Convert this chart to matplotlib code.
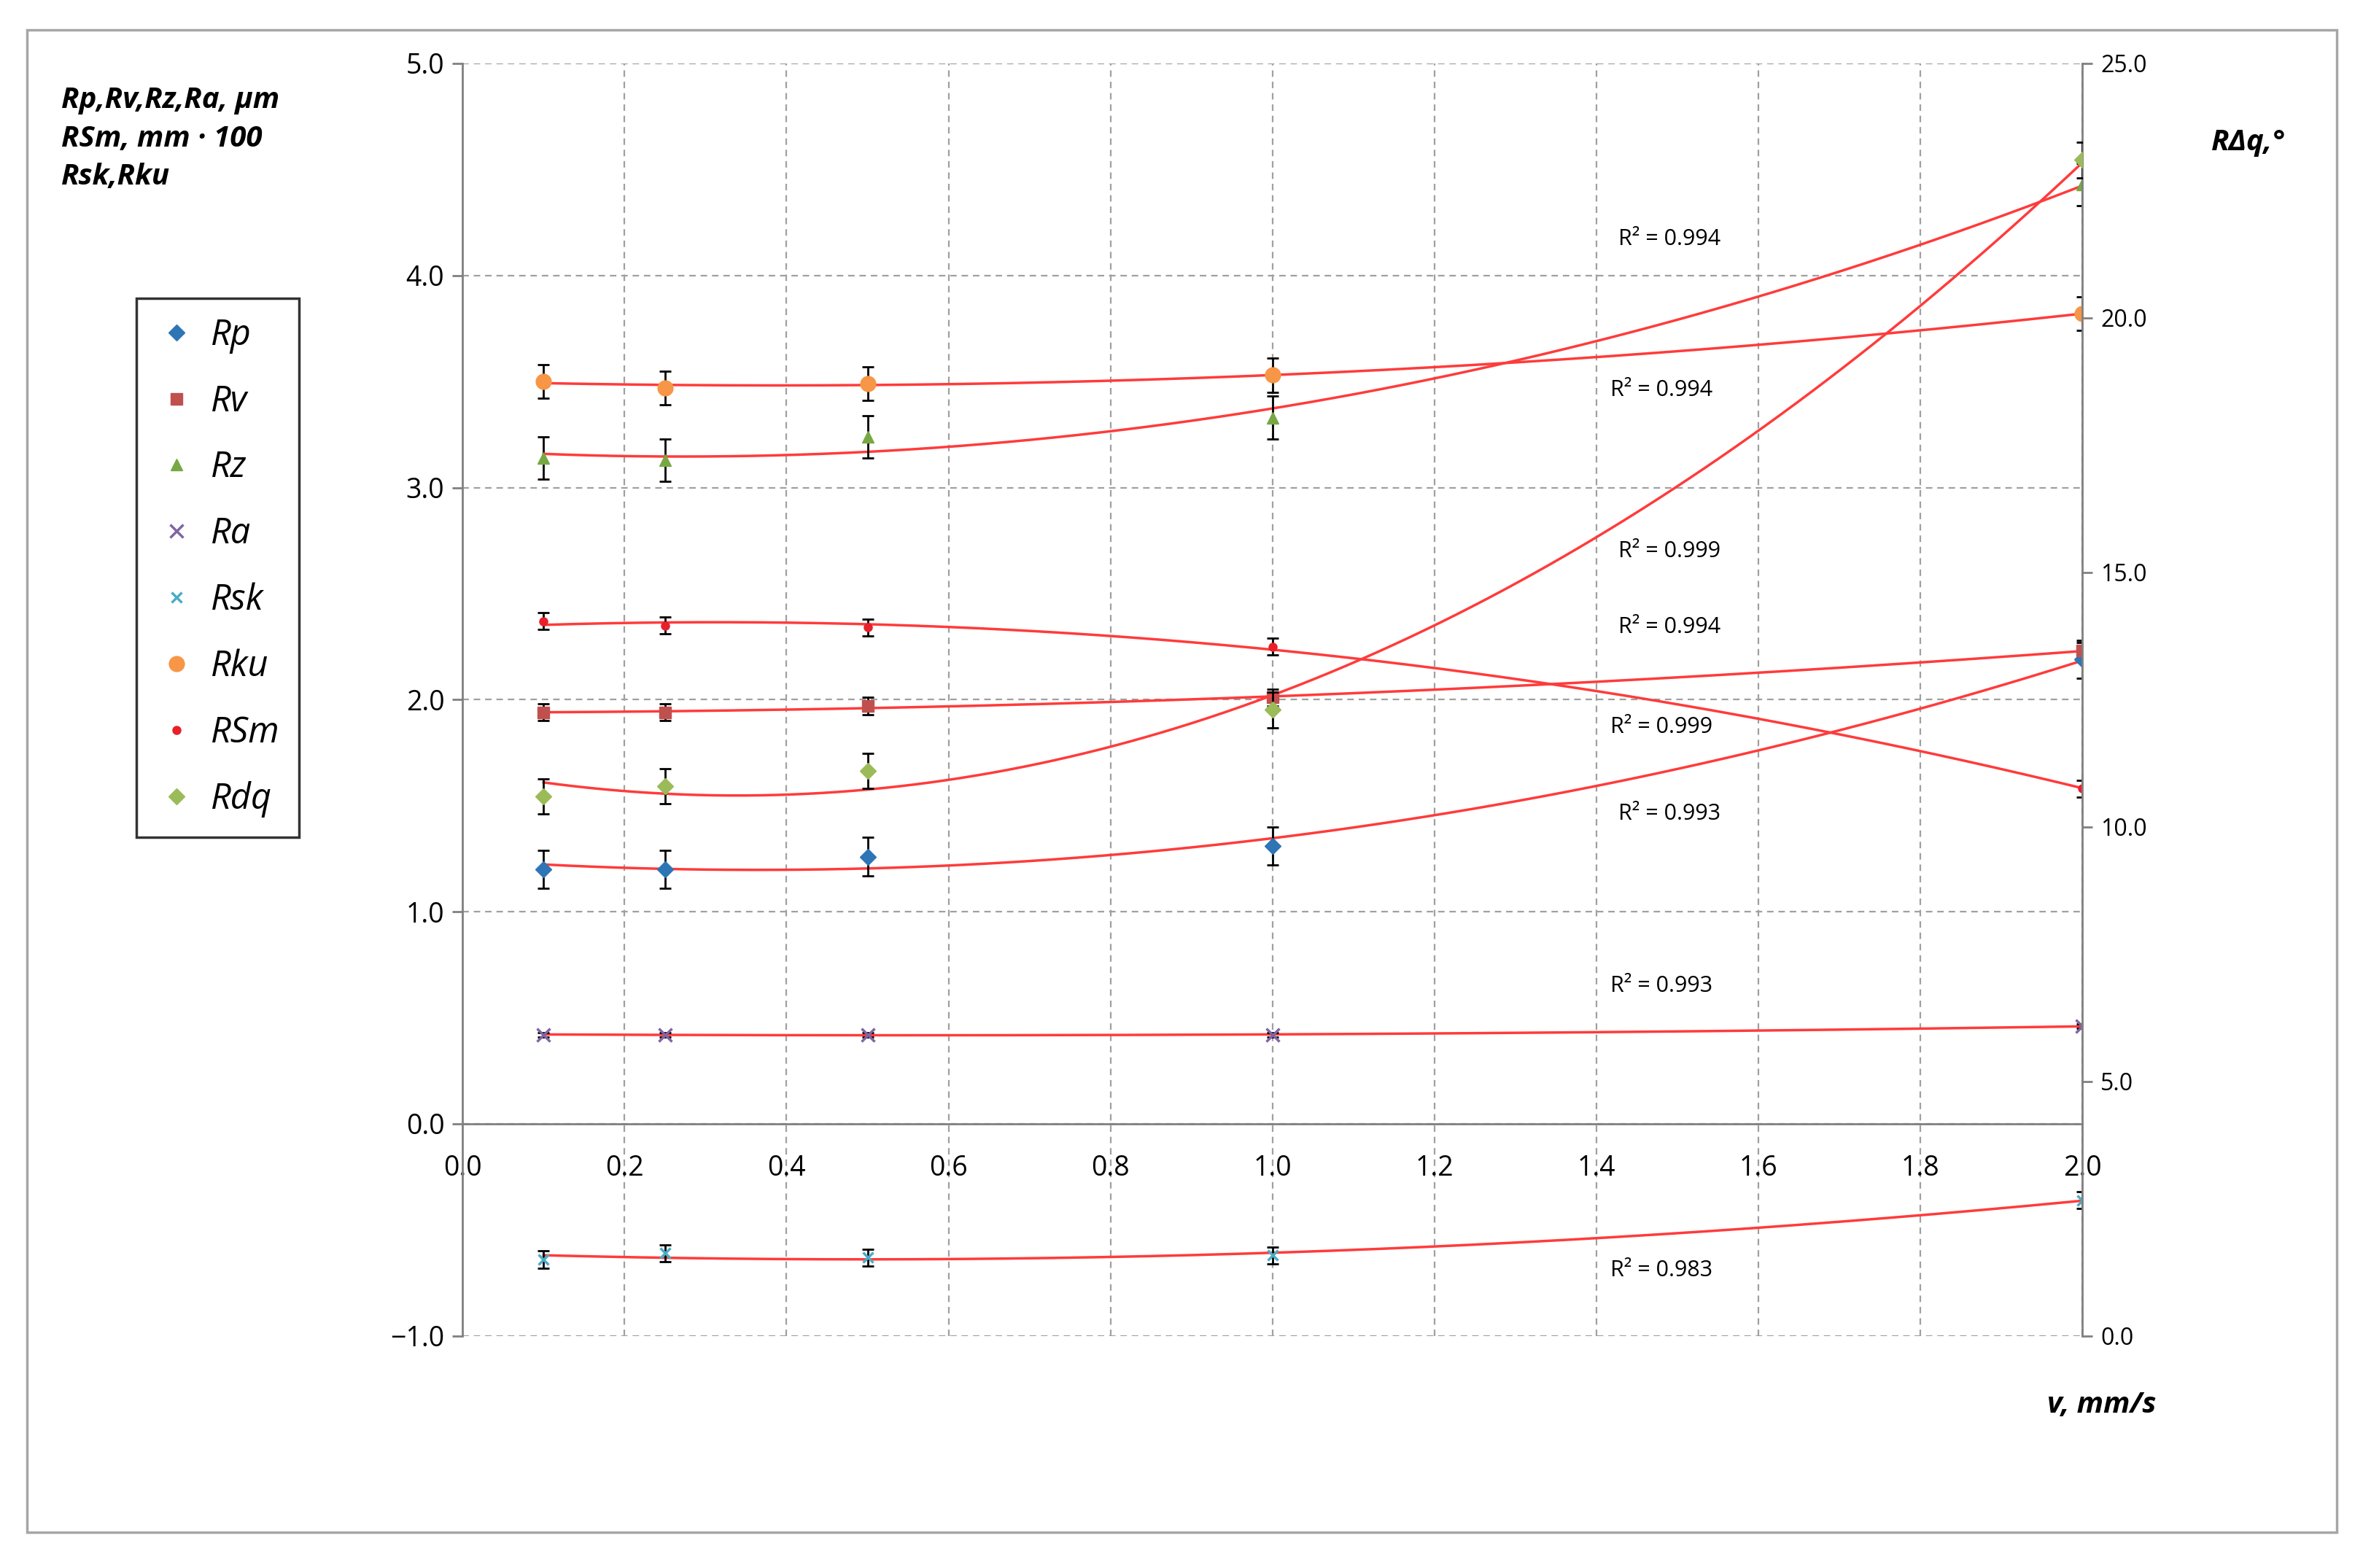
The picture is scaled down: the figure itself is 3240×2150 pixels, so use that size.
import numpy as np
import matplotlib.pyplot as plt
from matplotlib.patches import Rectangle

plt.rcParams['font.family'] = ['Open Sans', 'DejaVu Sans']

v = [0.1, 0.25, 0.5, 1.0, 2.0]
rp = [1.20, 1.20, 1.26, 1.31, 2.19]
rv = [1.94, 1.94, 1.97, 2.01, 2.23]
rz = [3.14, 3.13, 3.24, 3.33, 4.43]
ra = [0.42, 0.42, 0.42, 0.42, 0.46]
rsk = [-0.64, -0.61, -0.63, -0.62, -0.36]
rku = [3.50, 3.47, 3.49, 3.53, 3.82]
rsm = [2.37, 2.35, 2.34, 2.25, 1.58]
rdq = [10.6, 10.8, 11.1, 12.3, 23.1]  # right axis, degrees

err = {"Rp": 0.09, "Rv": 0.04, "Rz": 0.1, "Ra": 0.01, "Rsk": 0.04,
       "Rku": 0.08, "RSm": 0.04, "Rdq": 0.35}
r2_labels = ["0.994", "0.994", "0.999", "0.994", "0.999", "0.993", "0.993", "0.983"]
r2_pos = [(1.49, 4.17), (1.48, 3.46), (1.49, 2.70), (1.49, 2.34), (1.48, 1.87),
          (1.49, 1.46), (1.48, 0.65), (1.48, -0.69)]

fig = plt.figure(figsize=(32.41, 21.5), dpi=100)
fig.patches.append(Rectangle((0.0115, 0.023), 0.977, 0.958, transform=fig.transFigure,
                             fill=False, edgecolor="#a6a6a6", lw=2.5))
ax = fig.add_axes([0.1957, 0.148, 0.6853, 0.8116])
ax2 = ax.twinx()

series = [("Rp", rp, "D", "#2e75b6", 11), ("Rv", rv, "s", "#c0504d", 11),
          ("Rz", rz, "^", "#77a843", 12), ("Ra", ra, "x", "#8064a2", 13),
          ("Rsk", rsk, "x", "#4bacc6", 10), ("Rku", rku, "o", "#f79646", 15),
          ("RSm", rsm, "o", "#e8202a", 8)]
xs = np.linspace(0.1, 2.0, 200)
handles = []
for name, y, m, c, ms in series:
    ax.errorbar(v, y, yerr=err[name], fmt="none", ecolor="black", elinewidth=2, capsize=6, capthick=2, zorder=3)
    h, = ax.plot(v, y, m, color=c, ms=ms, mew=2.5 if m == "x" else 1, ls="none", label=name, zorder=4)
    handles.append(h)
    p = np.polyfit(v, y, 2)
    ax.plot(xs, np.polyval(p, xs), color="#ff3b3b", lw=2.5, zorder=2)

ax2.errorbar(v, rdq, yerr=err["Rdq"], fmt="none", ecolor="black", elinewidth=2, capsize=6, capthick=2, zorder=3)
h, = ax2.plot(v, rdq, "D", color="#9bbb59", ms=11, ls="none", label="Rdq", zorder=4)
handles.append(h)
p = np.polyfit(v, rdq, 2)
ax2.plot(xs, np.polyval(p, xs), color="#ff3b3b", lw=2.5, zorder=2)

ax.set_xlim(0, 2.0)
ax.set_ylim(-1, 5)
ax2.set_ylim(0, 25)
ax.set_xticks(np.arange(0, 2.01, 0.2))
ax.set_xticklabels([f"{t:.1f}" for t in np.arange(0, 2.01, 0.2)])
ax.set_yticks([-1, 0, 1, 2, 3, 4, 5])
ax.set_yticklabels(["\u22121.0", "0.0", "1.0", "2.0", "3.0", "4.0", "5.0"])
ax2.set_yticks([0, 5, 10, 15, 20, 25])
ax2.set_yticklabels([f"{t:.1f}" for t in [0, 5, 10, 15, 20, 25]])
ax.grid(True, ls=(0, (4, 3)), color="#a0a0a0", lw=1.6)
for s in ["top", "right", "bottom", "left"]:
    ax.spines[s].set_visible(False)
    ax2.spines[s].set_visible(False)
ax.spines["left"].set_visible(True)
ax.spines["left"].set_color("#808080")
ax.spines["bottom"].set_visible(True)
ax.spines["bottom"].set_position(("data", 0))
ax.spines["bottom"].set_color("#808080")
ax2.spines["right"].set_visible(True)
ax2.spines["right"].set_color("#808080")
ax.spines["left"].set_linewidth(2)
ax.spines["bottom"].set_linewidth(2)
ax2.spines["right"].set_linewidth(2)
ax.tick_params(labelsize=27, length=10, width=2, color="#808080", pad=8)
ax.tick_params(axis="x", direction="out", length=0, pad=30)
ax2.tick_params(labelsize=23, length=10, width=2, color="#808080", pad=8)

for lab, (x, y) in zip(r2_labels, r2_pos):
    ax.text(x, y, f"R\u00b2 = {lab}", fontsize=22, ha="center", va="center")

leg = ax.legend(handles=handles, loc="upper left", bbox_to_anchor=(-0.2125, 0.8296),
                fontsize=35, frameon=True, fancybox=False, edgecolor="black",
                labelspacing=0.85, handletextpad=0.35, handlelength=1.2, borderpad=0.55)
leg.get_frame().set_linewidth(2.5)
for t in leg.get_texts():
    t.set_fontstyle("italic")

fig.text(0.026, 0.945, "Rp,Rv,Rz,Ra, \u03bcm\nRSm, mm \u00b7 100\nRsk,Rku", fontsize=29,
         fontweight="bold", fontstyle="italic", va="top", ha="left", linespacing=1.45)
fig.text(0.951, 0.909, "R\u0394q,\u00b0", fontsize=29, fontweight="bold", fontstyle="italic", ha="center", va="center")
fig.text(0.889, 0.104, "v, mm/s", fontsize=29, fontweight="bold", fontstyle="italic", ha="center", va="center")

fig.savefig("out.png", dpi=100)
plt.close()
